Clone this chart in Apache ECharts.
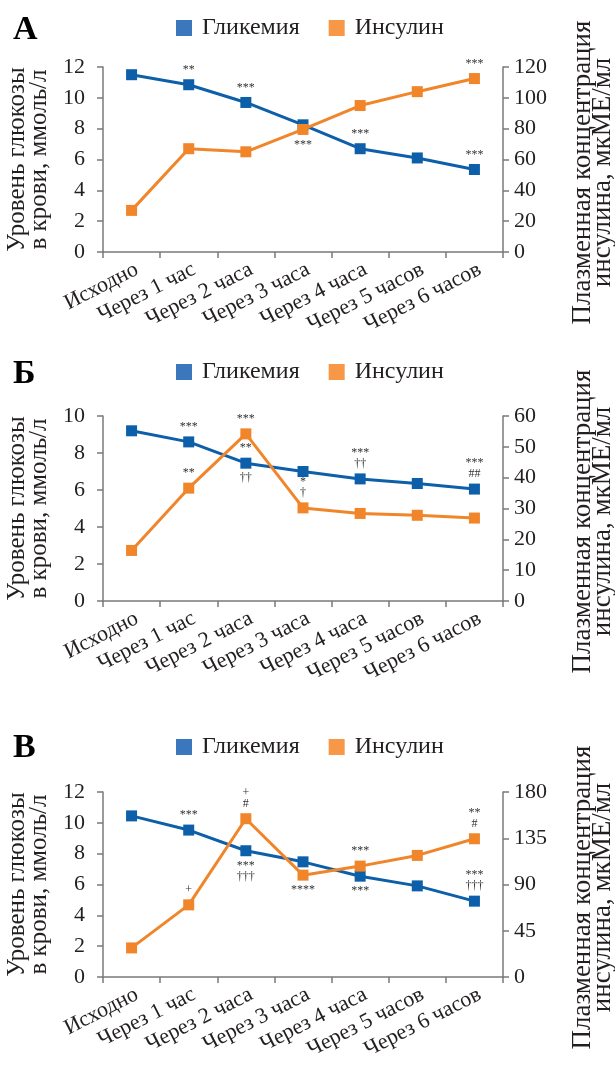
<!DOCTYPE html>
<html><head><meta charset="utf-8">
<script src="https://cdn.jsdelivr.net/npm/echarts@6/dist/echarts.min.js"></script>
<style>html,body{margin:0;padding:0;background:#fff}#c{width:615px;height:1065px}</style>
</head><body><div id="c"></div>
<script>
const categories = ['Исходно','Через 1 час','Через 2 часа','Через 3 часа','Через 4 часа','Через 5 часов','Через 6 часов'];
const panelLetters = ['А','Б','В'];
const glucoseName = 'Гликемия';
const insulinName = 'Инсулин';
const leftAxisName = 'Уровень глюкозы\nв крови, ммоль/л';
const rightAxisName = 'Плазменная концентрация\nинсулина, мкМЕ/мл';

const glucoseA = [11.5, 10.85, 9.7, 8.25, 6.7, 6.1, 5.35];
const insulinA = [27, 67, 65, 79.5, 95, 104, 112.5];
const glucoseB = [9.2, 8.6, 7.45, 7.0, 6.6, 6.35, 6.05];
const insulinB = [16.4, 36.6, 54.2, 30.2, 28.4, 27.8, 26.9];
const glucoseC = [10.45, 9.53, 8.19, 7.47, 6.54, 5.91, 4.92];
const insulinC = [28.3, 70.2, 154, 99.1, 107.9, 118.3, 134.5];

const leftAxisA = {min: 0, max: 12, interval: 2};
const rightAxisA = {min: 0, max: 120, interval: 20};
const leftAxisB = {min: 0, max: 10, interval: 2};
const rightAxisB = {min: 0, max: 60, interval: 10};
const leftAxisC = {min: 0, max: 12, interval: 2};
const rightAxisC = {min: 0, max: 180, interval: 45};

const glucoseAboveA = ['', '**', '***', '', '***', '', '***'];
const glucoseBelowA = ['', '', '', '', '', '', ''];
const insulinAboveA = ['', '', '', '', '', '', '***'];
const insulinBelowA = ['', '', '', '***', '', '', ''];

const glucoseAboveB = ['', '***', '**', '', '***\n††', '', '***\n##'];
const glucoseBelowB = ['', '', '††', '', '', '', ''];
const insulinAboveB = ['', '**', '***', '*\n†', '', '', ''];
const insulinBelowB = ['', '', '', '', '', '', ''];

const glucoseAboveC = ['', '***', '', '', '', '', '***\n†††'];
const glucoseBelowC = ['', '', '***\n†††', '', '***', '', ''];
const insulinAboveC = ['', '+', '+\n#', '', '***', '', '**\n#'];
const insulinBelowC = ['', '', '', '****', '', '', ''];

const panels = [
  {glucose: glucoseA, insulin: insulinA, left: leftAxisA, right: rightAxisA,
   gA: glucoseAboveA, gB: glucoseBelowA, iA: insulinAboveA, iB: insulinBelowA},
  {glucose: glucoseB, insulin: insulinB, left: leftAxisB, right: rightAxisB,
   gA: glucoseAboveB, gB: glucoseBelowB, iA: insulinAboveB, iB: insulinBelowB},
  {glucose: glucoseC, insulin: insulinC, left: leftAxisC, right: rightAxisC,
   gA: glucoseAboveC, gB: glucoseBelowC, iA: insulinAboveC, iB: insulinBelowC}
];

const FONT = 'Liberation Serif';
const BLUE = '#0d5fa9';
const ORANGE = '#f0852a';
const AXIS = '#7a7a7a';
const TXT = '#231f20';

const gridTops = [67, 416, 792];
const legendTops = [11, 355, 730];
const letterTops = [8, 352, 726];

const option = {
  backgroundColor: '#fff',
  animation: false,
  title: [], legend: [], grid: [], xAxis: [], yAxis: [], series: []
};

function annLabel(arr, pos) {
  return {
    show: true, position: pos, distance: 4,
    fontFamily: FONT, fontSize: 12, lineHeight: 11, color: '#333',
    formatter: p => arr[p.dataIndex]
  };
}

panels.forEach((p, k) => {
  option.title.push({text: panelLetters[k], left: 8, top: letterTops[k],
    textStyle: {fontFamily: FONT, fontSize: 34, fontWeight: 'bold', color: '#000'}});
  option.legend.push({
    top: legendTops[k], left: 171, itemWidth: 16, itemHeight: 16, itemGap: 29,
    icon: 'rect',
    textStyle: {fontFamily: FONT, fontSize: 24, color: TXT, padding: [0, 0, 0, 5]},
    data: [{name: glucoseName, itemStyle: {color: '#3b77bd'}},
           {name: insulinName, itemStyle: {color: '#f79846'}}]
  });
  option.grid.push({left: 103, right: 112, top: gridTops[k], height: 185,
    containLabel: false, outerBoundsMode: 'none'});
  option.xAxis.push({
    type: 'category', gridIndex: k, data: categories, boundaryGap: true,
    axisLine: {lineStyle: {color: AXIS, width: 1.5}},
    axisTick: {show: true, alignWithLabel: false, length: 6, lineStyle: {color: AXIS, width: 1.5}},
    axisLabel: {rotate: 27, interval: 0, margin: 19, fontFamily: FONT, fontSize: 22, color: TXT,
      padding: [0, -6, 0, 0]},
    splitLine: {show: false}
  });
  option.yAxis.push({
    type: 'value', gridIndex: k, position: 'left',
    min: p.left.min, max: p.left.max, interval: p.left.interval,
    name: leftAxisName, nameLocation: 'middle', nameRotate: 90, nameGap: 48,
    nameTextStyle: {fontFamily: FONT, fontSize: 25, lineHeight: 22, color: TXT},
    axisLine: {show: true, lineStyle: {color: AXIS, width: 1.5}},
    axisTick: {show: true, length: 6, lineStyle: {color: AXIS, width: 1.5}},
    axisLabel: {margin: 18, fontFamily: FONT, fontSize: 22, color: TXT},
    splitLine: {show: false}
  });
  option.yAxis.push({
    type: 'value', gridIndex: k, position: 'right',
    min: p.right.min, max: p.right.max, interval: p.right.interval,
    name: rightAxisName, nameLocation: 'middle', nameRotate: 90, nameGap: 70,
    nameTextStyle: {fontFamily: FONT, fontSize: 27, lineHeight: 20, color: TXT,
      padding: [0, 26, 0, 0]},
    axisLine: {show: true, lineStyle: {color: AXIS, width: 1.5}},
    axisTick: {show: true, length: 6, lineStyle: {color: AXIS, width: 1.5}},
    axisLabel: {margin: 11, fontFamily: FONT, fontSize: 22, color: TXT},
    splitLine: {show: false}
  });
  const yl = 2 * k, yr = 2 * k + 1;
  const lineBase = (name, data, yi, color) => ({
    name, type: 'line', xAxisIndex: k, yAxisIndex: yi, data,
    symbol: 'rect', symbolSize: 11, showSymbol: true,
    lineStyle: {color, width: 3}, itemStyle: {color}, z: 3
  });
  const ghost = (data, yi, arr, pos) => ({
    name: 'ann', type: 'line', xAxisIndex: k, yAxisIndex: yi, data,
    symbol: 'rect', symbolSize: 11, silent: true,
    lineStyle: {color: 'rgba(0,0,0,0)', width: 0},
    itemStyle: {color: 'rgba(0,0,0,0)', borderWidth: 0},
    label: annLabel(arr, pos), z: 5
  });
  const g = lineBase(glucoseName, p.glucose, yl, BLUE);
  g.label = annLabel(p.gA, 'top');
  const ins = lineBase(insulinName, p.insulin, yr, ORANGE);
  ins.z = 4;
  ins.label = annLabel(p.iA, 'top');
  option.series.push(g, ins,
    ghost(p.glucose, yl, p.gB, 'bottom'),
    ghost(p.insulin, yr, p.iB, 'bottom'));
});

const chart = echarts.init(document.getElementById('c'), null, {renderer: 'canvas'});
chart.setOption(option);
</script>
</body></html>
